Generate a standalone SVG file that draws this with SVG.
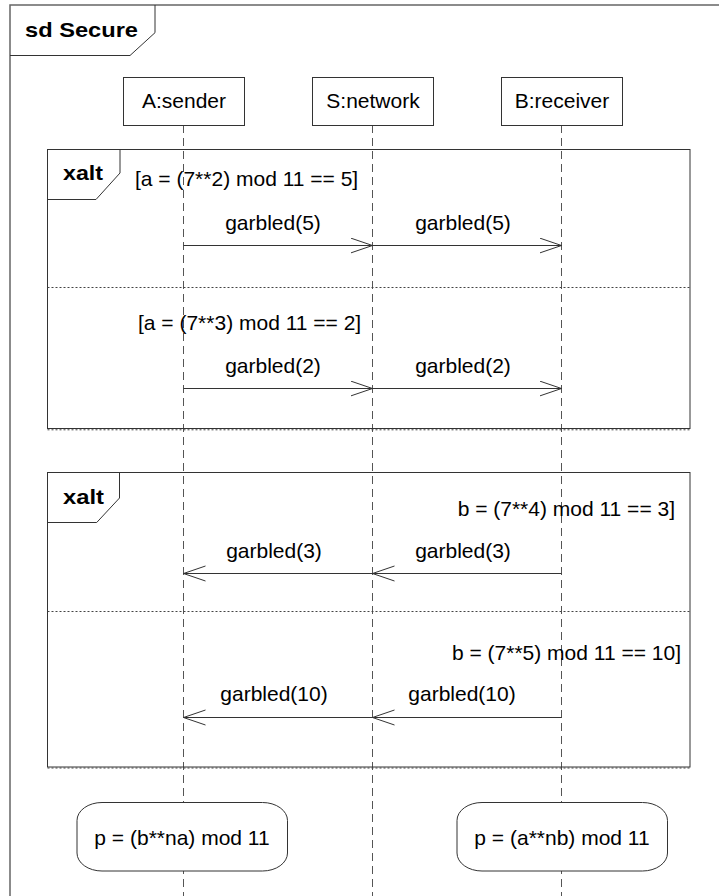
<svg xmlns="http://www.w3.org/2000/svg" width="719" height="896" viewBox="0 0 719 896">
<style>
  text { font-family: "Liberation Sans", Arial, sans-serif; font-size: 21px; fill: #000; }
  .b { font-weight: bold; }
  .frame { fill: none; stroke: #333; stroke-width: 1; }
  .outer { fill: none; stroke: #666; stroke-width: 1.5; }
  .sep { stroke: #444; stroke-width: 1; stroke-dasharray: 2 2; }
  .life { stroke: #555; stroke-width: 1; stroke-dasharray: 8 5; }
  .box { fill: #fff; stroke: #333; stroke-width: 1; }
  .msg { stroke: #333; stroke-width: 1; fill: none; marker-end: url(#open); }
  .c { text-anchor: middle; }
  .e { text-anchor: end; }
</style>
<defs>
  <marker id="open" markerUnits="userSpaceOnUse" markerWidth="24" markerHeight="18" refX="22" refY="8" orient="auto" viewBox="0 0 24 18">
    <path d="M0,0.5 L22,8 L0,15.5" fill="none" stroke="#333" stroke-width="1"/>
  </marker>
</defs>
<rect width="719" height="896" fill="#fff"/>

<g id="frame-sd">
  <rect class="outer" x="10" y="5" width="730" height="900"/>
  <path class="frame" d="M10,55.5 H130 L155,32.7 V5"/>
  <text class="b" x="25" y="37" textLength="113" lengthAdjust="spacingAndGlyphs">sd Secure</text>
</g>

<g id="lifelines">
  <line class="life" x1="183.5" y1="125" x2="183.5" y2="896"/>
  <line class="life" x1="372.5" y1="125" x2="372.5" y2="896"/>
  <line class="life" x1="561.5" y1="125" x2="561.5" y2="896"/>
</g>

<g id="A">
  <rect class="box" x="123.5" y="77.5" width="121" height="48"/>
  <text class="c" x="184" y="108">A:sender</text>
</g>
<g id="S">
  <rect class="box" x="312.5" y="77.5" width="121" height="48"/>
  <text class="c" x="373" y="108">S:network</text>
</g>
<g id="B">
  <rect class="box" x="501.5" y="77.5" width="121" height="48"/>
  <text class="c" x="562" y="108">B:receiver</text>
</g>

<g id="xalt1">
  <rect class="frame" x="47.5" y="149.5" width="642.5" height="279"/>
  <line class="sep" x1="47.5" y1="429.8" x2="690" y2="429.8"/>
  <path class="frame" d="M47.5,199.5 H96 L120,173 V149.5"/>
  <text class="b" x="63" y="180" textLength="40" lengthAdjust="spacingAndGlyphs">xalt</text>
  <line class="sep" x1="47.5" y1="287.5" x2="690" y2="287.5"/>
  <text x="135" y="186">[a = (7**2) mod 11 == 5]</text>
  <text x="138" y="330">[a = (7**3) mod 11 == 2]</text>
</g>

<g id="xalt2">
  <rect class="frame" x="47.5" y="472.5" width="642.5" height="294.5"/>
  <line class="sep" x1="47.5" y1="768" x2="690" y2="768"/>
  <path class="frame" d="M47.5,522.5 H96.7 L119.5,498 V472.5"/>
  <text class="b" x="63" y="504" textLength="41" lengthAdjust="spacingAndGlyphs">xalt</text>
  <line class="sep" x1="47.5" y1="611.5" x2="690" y2="611.5"/>
  <text class="e" x="675" y="516">b = (7**4) mod 11 == 3]</text>
  <text class="e" x="681" y="659.5">b = (7**5) mod 11 == 10]</text>
</g>

<g id="connectors">
  <line class="msg" x1="183.5" y1="245.5" x2="372.5" y2="245.5"/>
  <line class="msg" x1="372.5" y1="245.5" x2="561.5" y2="245.5"/>
  <line class="msg" x1="183.5" y1="388.5" x2="372.5" y2="388.5"/>
  <line class="msg" x1="372.5" y1="388.5" x2="561.5" y2="388.5"/>
  <line class="msg" x1="561.5" y1="573.5" x2="372.5" y2="573.5"/>
  <line class="msg" x1="372.5" y1="573.5" x2="183.5" y2="573.5"/>
  <line class="msg" x1="561.5" y1="717.5" x2="372.5" y2="717.5"/>
  <line class="msg" x1="372.5" y1="717.5" x2="183.5" y2="717.5"/>
  <text class="c" x="273" y="230">garbled(5)</text>
  <text class="c" x="463" y="230">garbled(5)</text>
  <text class="c" x="273" y="373">garbled(2)</text>
  <text class="c" x="463" y="373">garbled(2)</text>
  <text class="c" x="463" y="557.5">garbled(3)</text>
  <text class="c" x="274" y="557.5">garbled(3)</text>
  <text class="c" x="462" y="701">garbled(10)</text>
  <text class="c" x="274" y="701">garbled(10)</text>
</g>

<g id="noteA">
  <rect class="box" x="77" y="802.5" width="210.5" height="68.5" rx="25" ry="18"/>
  <text class="c" x="182" y="845">p = (b**na) mod 11</text>
</g>
<g id="noteB">
  <rect class="box" x="457" y="802.5" width="210.5" height="68.5" rx="25" ry="18"/>
  <text class="c" x="562" y="845">p = (a**nb) mod 11</text>
</g>
</svg>
